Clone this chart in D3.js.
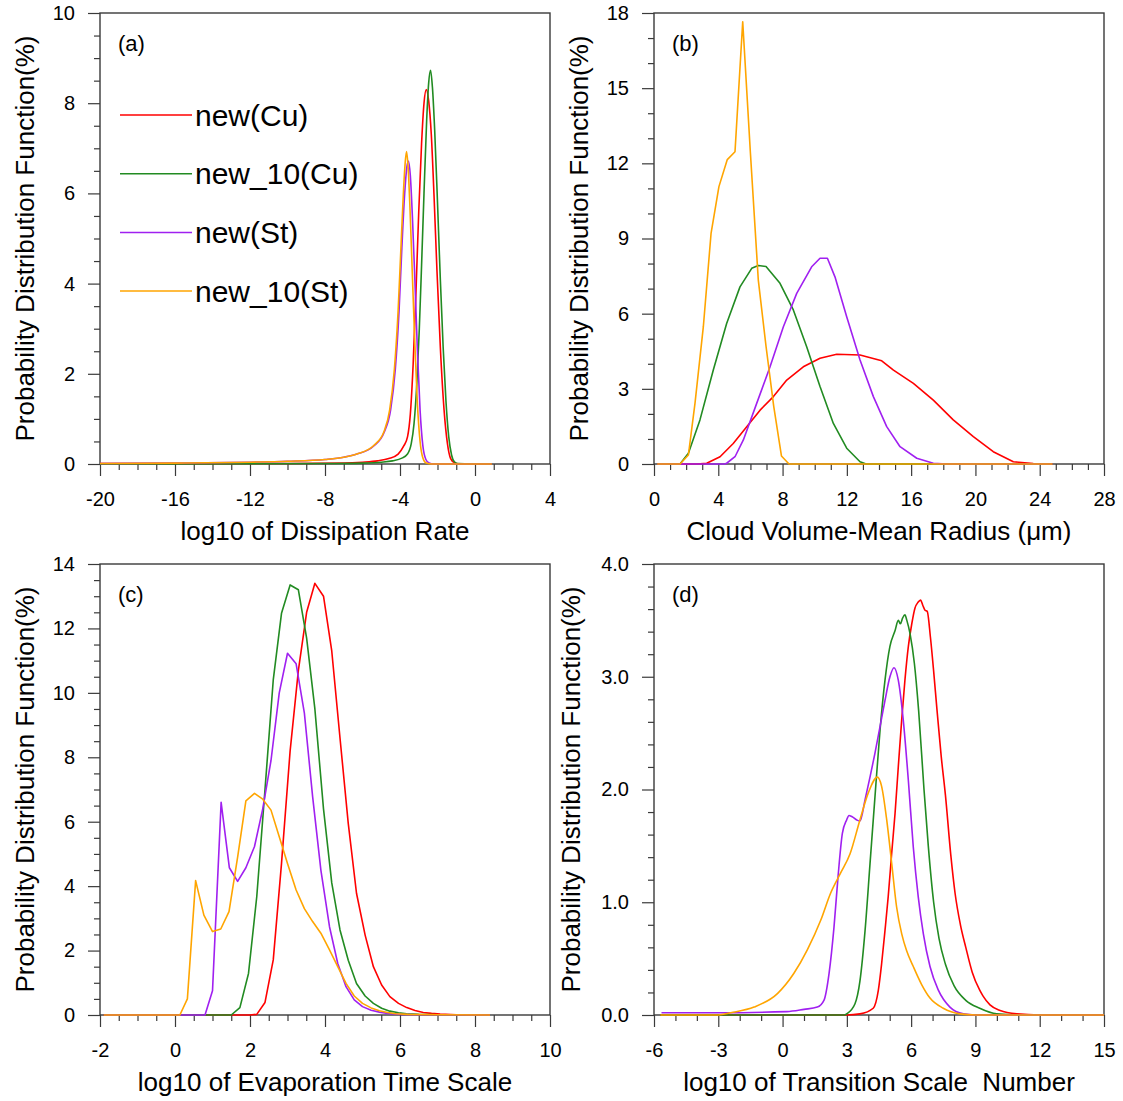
<!DOCTYPE html>
<html>
<head>
<meta charset="utf-8">
<script src="https://cdn.jsdelivr.net/npm/d3@7"></script>
<style>
body { margin: 0; background: #fff; }
svg text { font-family: "Liberation Sans", Arial, Helvetica, sans-serif; fill: #000; }
</style>
</head>
<body>
<div class="container"></div>
<script>
var width = 1123;
var height = 1101;

var seriesNames = ['new(Cu)', 'new_10(Cu)', 'new(St)', 'new_10(St)'];
var seriesColors = ['#ff0000', '#228b22', '#a020f0', '#ffa500'];

// (a) log10 of dissipation rate
var aXTicks = [-20, -16, -12, -8, -4, 0, 4];
var aYTicks = [0, 2, 4, 6, 8, 10];
var aRed = [[-20,0.01],[-10,0.01],[-7,0.02],[-6,0.04],[-5.2,0.07],[-4.6,0.12],[-4.1,0.22],[-3.8,0.4],[-3.6,0.6],[-3.45,1.1],[-3.3,2.2],[-3.15,3.8],[-3.0,5.6],[-2.85,7.1],[-2.72,8.0],[-2.6,8.3],[-2.47,8.05],[-2.33,7.3],[-2.18,5.9],[-2.03,4.3],[-1.85,2.6],[-1.65,1.2],[-1.47,0.45],[-1.3,0.12],[-1.1,0.03],[-0.8,0],[0.9,0]];
var aGreen = [[-20,0],[-8,0.01],[-6,0.02],[-5,0.04],[-4.4,0.07],[-3.9,0.13],[-3.6,0.22],[-3.4,0.45],[-3.25,0.9],[-3.1,1.8],[-2.97,3.0],[-2.85,4.4],[-2.72,6.0],[-2.58,7.6],[-2.47,8.45],[-2.37,8.73],[-2.27,8.35],[-2.15,7.4],[-2.0,5.8],[-1.85,4.1],[-1.7,2.6],[-1.55,1.4],[-1.4,0.6],[-1.25,0.2],[-1.1,0.05],[-0.9,0.01],[0.9,0]];
var aPurple = [[-20,0.01],[-16,0.02],[-12,0.04],[-10,0.06],[-8,0.1],[-7,0.15],[-6.3,0.22],[-5.4,0.4],[-4.85,0.7],[-4.5,1.2],[-4.25,2.1],[-4.05,3.4],[-3.9,4.8],[-3.75,6.0],[-3.63,6.6],[-3.55,6.72],[-3.45,6.4],[-3.33,5.4],[-3.2,4.0],[-3.07,2.5],[-2.93,1.2],[-2.78,0.4],[-2.62,0.1],[-2.45,0.02],[-2.2,0],[0.9,0]];
var aOrange = [[-20,0.01],[-16,0.02],[-12,0.04],[-10,0.06],[-8,0.1],[-7,0.15],[-6.3,0.22],[-5.4,0.41],[-4.85,0.72],[-4.55,1.2],[-4.3,2.1],[-4.1,3.4],[-3.95,4.8],[-3.82,6.0],[-3.72,6.7],[-3.65,6.93],[-3.57,6.6],[-3.47,5.7],[-3.35,4.3],[-3.22,2.8],[-3.08,1.4],[-2.93,0.5],[-2.77,0.12],[-2.6,0.02],[-2.3,0],[0.9,0]];

// (b) cloud volume-mean radius
var bXTicks = [0, 4, 8, 12, 16, 20, 24, 28];
var bYTicks = [0, 3, 6, 9, 12, 15, 18];
var bRed = [[0.2,0],[2.67,0],[3.28,0.03],[4.11,0.29],[4.93,0.82],[5.77,1.49],[6.6,2.15],[7.43,2.69],[8.26,3.35],[9.29,3.88],[10.33,4.22],[11.37,4.38],[12.82,4.35],[14.17,4.12],[14.9,3.75],[16.14,3.22],[17.38,2.55],[18.62,1.76],[19.87,1.09],[21.11,0.49],[22.36,0.09],[23.6,0.02],[24.8,0]];
var bGreen = [[0.2,0],[1.62,0],[2.14,0.43],[2.86,1.76],[3.69,3.75],[4.52,5.61],[5.35,7.07],[6.08,7.81],[6.49,7.92],[6.97,7.88],[7.84,7.21],[8.67,6.15],[9.5,4.68],[10.33,3.09],[11.16,1.62],[11.99,0.63],[12.82,0.09],[13.2,0],[24.8,0]];
var bPurple = [[0.2,0],[4.4,0],[4.52,0.03],[5.04,0.29],[5.56,0.96],[6.39,2.42],[7.22,3.88],[8.05,5.48],[8.88,6.81],[9.81,7.87],[10.33,8.21],[10.79,8.21],[11.26,7.47],[11.99,5.88],[12.82,4.15],[13.65,2.69],[14.48,1.49],[15.31,0.69],[16.35,0.23],[17.38,0.03],[18.2,0],[24.8,0]];
var bOrange = [[0.2,0],[1.62,0],[2.14,0.36],[2.55,2.42],[3.07,5.48],[3.55,9.2],[4.04,11.07],[4.56,12.15],[5.04,12.46],[5.52,17.65],[6.0,12.4],[6.49,7.34],[6.97,4.7],[7.45,2.3],[7.93,0.32],[8.4,0],[24.8,0]];

// (c) log10 of evaporation time scale
var cXTicks = [-2, 0, 2, 4, 6, 8, 10];
var cYTicks = [0, 2, 4, 6, 8, 10, 12, 14];
var cRed = [[-1.9,0],[2.0,0],[2.18,0.02],[2.4,0.39],[2.62,1.71],[2.84,4.7],[3.07,8.2],[3.29,10.7],[3.51,12.5],[3.73,13.4],[3.96,13.0],[4.18,11.3],[4.4,8.6],[4.62,5.95],[4.84,3.78],[5.07,2.48],[5.29,1.5],[5.51,0.93],[5.73,0.57],[5.96,0.36],[6.18,0.23],[6.4,0.14],[6.62,0.08],[6.84,0.05],[7.07,0.03],[7.5,0.01],[8.4,0]];
var cGreen = [[-1.9,0],[1.5,0],[1.73,0.23],[1.96,1.29],[2.18,3.67],[2.4,7.0],[2.62,10.4],[2.84,12.47],[3.07,13.35],[3.29,13.2],[3.51,11.7],[3.73,9.5],[3.96,6.4],[4.18,4.1],[4.4,2.64],[4.62,1.7],[4.84,0.98],[5.07,0.59],[5.29,0.36],[5.51,0.21],[5.73,0.12],[5.96,0.07],[6.18,0.04],[6.5,0.02],[7,0.01],[8.4,0]];
var cPurple = [[-1.9,0],[0.8,0],[1.0,0.75],[1.23,6.6],[1.45,4.57],[1.67,4.15],[1.89,4.57],[2.12,5.23],[2.34,6.4],[2.56,7.9],[2.78,10.0],[3.0,11.23],[3.23,10.9],[3.45,9.37],[3.67,6.78],[3.89,4.5],[4.12,2.74],[4.34,1.6],[4.56,0.88],[4.78,0.47],[5.0,0.26],[5.23,0.15],[5.45,0.09],[5.67,0.05],[6.0,0.02],[6.5,0.01],[8.4,0]];
var cOrange = [[-1.9,0],[0.13,0],[0.33,0.5],[0.55,4.17],[0.77,3.1],[1.0,2.59],[1.22,2.67],[1.44,3.21],[1.67,4.9],[1.89,6.65],[2.12,6.88],[2.34,6.7],[2.56,6.36],[2.78,5.53],[3.0,4.7],[3.23,3.88],[3.45,3.3],[3.67,2.9],[3.89,2.54],[4.12,2.02],[4.34,1.5],[4.56,0.98],[4.78,0.59],[5.0,0.36],[5.23,0.22],[5.45,0.13],[5.67,0.08],[5.89,0.04],[6.2,0.02],[7,0.01],[8.4,0]];

// (d) log10 of transition scale number
var dXTicks = [-6, -3, 0, 3, 6, 9, 12, 15];
var dYTicks = [0, 1, 2, 3, 4];
var dRed = [[-5.7,0],[2.99,0],[3.61,0.01],[4.23,0.06],[4.47,0.22],[4.62,0.45],[4.78,0.75],[4.93,1.05],[5.09,1.43],[5.25,1.79],[5.4,2.2],[5.56,2.62],[5.71,2.97],[5.87,3.27],[6.03,3.47],[6.18,3.61],[6.32,3.66],[6.44,3.68],[6.55,3.63],[6.65,3.59],[6.75,3.58],[6.9,3.35],[7.05,3.05],[7.2,2.72],[7.4,2.3],[7.6,1.95],[7.85,1.42],[8.05,1.08],[8.3,0.8],[8.55,0.6],[8.85,0.38],[9.2,0.22],[9.35,0.17],[9.68,0.09],[10.15,0.04],[10.93,0.01],[12,0],[15,0]];
var dGreen = [[-5.7,0],[2.9,0],[2.99,0.01],[3.38,0.1],[3.61,0.3],[3.85,0.75],[4.08,1.34],[4.31,1.93],[4.55,2.53],[4.78,2.97],[5.01,3.27],[5.25,3.41],[5.4,3.5],[5.5,3.47],[5.6,3.52],[5.71,3.55],[5.8,3.5],[5.95,3.38],[6.15,3.12],[6.35,2.7],[6.6,2.0],[6.8,1.5],[7.05,1.0],[7.3,0.68],[7.6,0.45],[8.0,0.26],[8.55,0.13],[9.2,0.06],[9.99,0.01],[11,0],[15,0]];
var dPurple = [[-5.65,0.02],[-3,0.02],[0.2,0.03],[1.0,0.05],[1.62,0.07],[1.93,0.13],[2.17,0.37],[2.4,0.78],[2.59,1.23],[2.79,1.61],[2.99,1.73],[3.1,1.77],[3.23,1.76],[3.46,1.73],[3.61,1.72],[3.85,1.91],[4.08,2.11],[4.31,2.32],[4.55,2.56],[4.78,2.79],[5.01,3.0],[5.2,3.08],[5.4,2.97],[5.63,2.62],[5.87,2.08],[6.1,1.49],[6.33,1.05],[6.57,0.72],[6.88,0.43],[7.27,0.22],[7.81,0.07],[8.44,0.01],[9,0],[15,0]];
var dOrange = [[-5.7,0],[-3,0],[-2.42,0.02],[-1.33,0.07],[-0.24,0.19],[0.53,0.37],[1.16,0.58],[1.78,0.84],[2.24,1.08],[2.71,1.26],[3.15,1.43],[3.61,1.73],[4.0,1.97],[4.42,2.11],[4.62,2.03],[4.86,1.73],[5.09,1.35],[5.32,0.96],[5.56,0.72],[5.79,0.57],[6.1,0.43],[6.49,0.27],[6.88,0.15],[7.5,0.06],[8.28,0.01],[9,0],[15,0]];

var translate = function(x, y) {
    return 'translate(' + x + ',' + y + ')';
};

// plain hyphen for negatives, like the original plot
var intLabel = function(d) { return String(d); };
var oneDecimal = function(d) { return d.toFixed(1); };

var minorTicks = function(domain, step, majors) {
    return d3.range(domain[0], domain[1] + step / 2, step)
        .filter(function(v) { return !majors.some(function(m) { return Math.abs(m - v) < 1e-6; }); });
};

var panels = [
    {x: 100, y: 13, label: '(a)', xDomain: [-20, 4], yDomain: [0, 10], xTicks: aXTicks, yTicks: aYTicks,
     xMinor: 1, yMinor: 0.5, yFormat: intLabel, titleOffset: 66, smooth: true,
     xTitle: 'log10 of Dissipation Rate', series: [aRed, aGreen, aPurple, aOrange], legend: true},
    {x: 654, y: 13, label: '(b)', xDomain: [0, 28], yDomain: [0, 18], xTicks: bXTicks, yTicks: bYTicks,
     xMinor: 1, yMinor: 1, yFormat: intLabel, titleOffset: 66, smooth: false,
     xTitle: 'Cloud Volume-Mean Radius (\u03bcm)', series: [bRed, bGreen, bPurple, bOrange]},
    {x: 100, y: 564, label: '(c)', xDomain: [-2, 10], yDomain: [0, 14], xTicks: cXTicks, yTicks: cYTicks,
     xMinor: 0.5, yMinor: 0.5, yFormat: intLabel, titleOffset: 66, smooth: false,
     xTitle: 'log10 of Evaporation Time Scale', series: [cRed, cGreen, cPurple, cOrange]},
    {x: 654, y: 564, label: '(d)', xDomain: [-6, 15], yDomain: [0, 4], xTicks: dXTicks, yTicks: dYTicks,
     xMinor: 1, yMinor: 0.2, yFormat: oneDecimal, titleOffset: 74, smooth: true,
     xTitle: 'log10 of Transition Scale  Number', series: [dRed, dGreen, dPurple, dOrange]}
];

var pw = 450, ph = 451;
var axisColor = '#3a3a3a';

var drawPanel = function(svg, p) {
    var XScale = d3.scaleLinear().domain(p.xDomain).range([0, pw]);
    var YScale = d3.scaleLinear().domain(p.yDomain).range([ph, 0]);

    var g = svg.append('g').attr('transform', translate(p.x, p.y));

    // minor ticks
    g.append('g')
        .attr('transform', translate(0, ph))
        .call(d3.axisBottom(XScale).tickValues(minorTicks(p.xDomain, p.xMinor, p.xTicks))
            .tickSize(6).tickSizeOuter(0).tickFormat(''))
        .call(function(s) { s.select('.domain').remove(); });
    g.append('g')
        .call(d3.axisLeft(YScale).tickValues(minorTicks(p.yDomain, p.yMinor, p.yTicks))
            .tickSize(6).tickSizeOuter(0).tickFormat(''))
        .call(function(s) { s.select('.domain').remove(); });

    // major ticks + labels
    var xAxis = g.append('g')
        .attr('transform', translate(0, ph))
        .call(d3.axisBottom(XScale).tickValues(p.xTicks).tickSize(12).tickSizeOuter(0)
            .tickPadding(16).tickFormat(intLabel));
    var yAxis = g.append('g')
        .call(d3.axisLeft(YScale).tickValues(p.yTicks).tickSize(12).tickSizeOuter(0)
            .tickPadding(13).tickFormat(p.yFormat));
    [xAxis, yAxis].forEach(function(a) {
        a.select('.domain').remove();
        a.attr('font-size', 20).attr('font-family', null);
    });
    g.selectAll('.tick line').attr('stroke', axisColor).attr('stroke-width', 1.2);

    // frame
    g.append('rect')
        .attr('width', pw).attr('height', ph)
        .attr('fill', 'none')
        .attr('stroke', axisColor)
        .attr('stroke-width', 1.4);

    // curves
    var line = d3.line()
        .x(function(d) { return XScale(d[0]); })
        .y(function(d) { return YScale(d[1]); })
        .curve(p.smooth ? d3.curveMonotoneX : d3.curveLinear);

    g.append('g').classed('lineGroup', true)
        .selectAll('path').data(p.series).enter()
        .append('path')
        .attr('d', line)
        .attr('fill', 'none')
        .attr('stroke', function(d, i) { return seriesColors[i]; })
        .attr('stroke-width', 1.6)
        .attr('stroke-linejoin', 'round');

    // panel label
    g.append('text')
        .attr('x', 18).attr('y', 38)
        .attr('font-size', 22)
        .text(p.label);

    // axis titles
    g.append('text')
        .attr('x', pw / 2).attr('y', ph + 76)
        .attr('text-anchor', 'middle')
        .attr('font-size', 26)
        .style('white-space', 'pre')
        .text(p.xTitle);
    g.append('text')
        .attr('transform', translate(-p.titleOffset, ph / 2) + ' rotate(-90)')
        .attr('text-anchor', 'middle')
        .attr('font-size', 26)
        .text('Probability Distribution Function(%)');

    if (p.legend) {
        var leg = g.append('g').attr('transform', translate(20, 102));
        var item = leg.selectAll('g').data(seriesNames).enter()
            .append('g')
            .attr('transform', function(d, i) { return translate(0, i * 58.7); });
        item.append('line')
            .attr('x1', 0).attr('x2', 72)
            .attr('stroke', function(d, i) { return seriesColors[i]; })
            .attr('stroke-width', 1.5);
        item.append('text')
            .attr('x', 75).attr('dy', '0.35em')
            .attr('font-size', 30)
            .text(function(d) { return d; });
    }
};

var draw = function() {
    var svg = d3.select('.container').append('svg')
        .attr('width', width)
        .attr('height', height);
    panels.forEach(function(p) { drawPanel(svg, p); });
};

window.onload = draw;
</script>
</body>
</html>
